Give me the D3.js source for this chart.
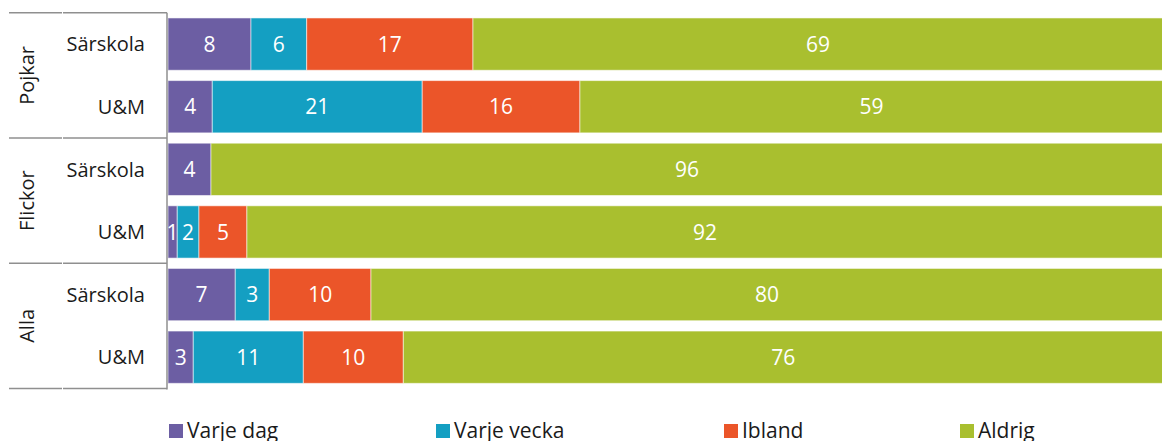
<!DOCTYPE html>
<html>
<head>
<meta charset="utf-8">
<script src="https://cdn.jsdelivr.net/npm/d3@7"></script>
<style>
  body { margin: 0; background: #fff; }
  text { font-family: "Open Sans", sans-serif; }
</style>
</head>
<body>
<div id="chart"></div>
<script>
// categories (top to bottom)
const groups = ["Pojkar", "Flickor", "Alla"];
const schools = ["Särskola", "U&M"];

// series values, percent, one per row (Pojkar Särskola, Pojkar U&M, Flickor ..., Alla ...)
const varjeDag = [8.34, 4.45, 4.32, 0.93, 6.76, 2.54];
const varjeVecka = [5.6, 21.1, 0, 2.18, 3.42, 11.06];
const ibland = [16.71, 15.85, 0, 4.82, 10.22, 10.05];
const aldrig = [69.35, 58.6, 95.68, 92.07, 79.6, 76.35];

const seriesNames = ["Varje dag", "Varje vecka", "Ibland", "Aldrig"];
const colors = ["#6c5ea3", "#149fc2", "#eb5529", "#a9bf2f"];

function drawChart() {
  const width = 1162,
    height = 441;

  const svg = d3
    .select("#chart")
    .append("svg")
    .attr("width", width)
    .attr("height", height);

  // build the rows table
  const rows = [];
  groups.forEach((g, gi) => {
    schools.forEach((s, si) => {
      const i = gi * schools.length + si;
      rows.push({
        key: g + "|" + s,
        group: g,
        school: s,
        "Varje dag": varjeDag[i],
        "Varje vecka": varjeVecka[i],
        Ibland: ibland[i],
        Aldrig: aldrig[i],
      });
    });
  });

  const x = d3.scaleLinear().domain([0, 100]).range([168, 1163]);
  const y = d3
    .scaleBand()
    .domain(rows.map((d) => d.key))
    .range([12.8, 388.5])
    .paddingInner(0.165)
    .paddingOuter(0.0825);

  const stacked = d3.stack().keys(seriesNames)(rows);

  const layers = svg
    .selectAll("g.layer")
    .data(stacked)
    .join("g")
    .attr("class", "layer")
    .attr("fill", (d, i) => colors[i]);

  layers
    .selectAll("rect")
    .data((d) => d.filter((p) => p[1] - p[0] > 0))
    .join("rect")
    .attr("x", (d) => x(d[0]))
    .attr("y", (d) => y(d.data.key))
    .attr("width", (d) => x(d[1]) - x(d[0]))
    .attr("height", y.bandwidth())
    .attr("stroke", "rgba(255,255,255,0.55)")
    .attr("stroke-width", 1);

  // value labels
  const fmt = d3.format(".0f");
  layers
    .selectAll("text")
    .data((d) => d.filter((p) => p[1] - p[0] > 0))
    .join("text")
    .attr("x", (d) => (x(d[0]) + x(d[1])) / 2)
    .attr("y", (d) => y(d.data.key) + y.bandwidth() / 2)
    .attr("dy", "0.36em")
    .attr("text-anchor", "middle")
    .attr("fill", "#fff")
    .style("font-size", "21px")
    .text((d) => fmt(d[1] - d[0]));

  // category axis (two levels)
  const axis = svg.append("g").attr("stroke", "#8f8f8f").attr("stroke-width", 1.5);
  axis
    .append("line")
    .attr("x1", 167)
    .attr("x2", 167)
    .attr("y1", y.range()[0])
    .attr("y2", y.range()[1] + 1);

  const step = y.step();
  const groupEdges = groups.map((g, i) => y.range()[0] + i * step * schools.length);
  groupEdges.push(y.range()[1]);
  groupEdges.forEach((e) => {
    axis.append("line").attr("x1", 9).attr("x2", 62).attr("y1", e).attr("y2", e);
    axis.append("line").attr("x1", 63).attr("x2", 167).attr("y1", e).attr("y2", e);
  });

  svg
    .selectAll("text.school")
    .data(rows)
    .join("text")
    .attr("class", "school")
    .attr("x", 145)
    .attr("y", (d) => y(d.key) + y.bandwidth() / 2)
    .attr("dy", "0.36em")
    .attr("text-anchor", "end")
    .attr("fill", "#1a1a1a")
    .style("font-size", "20px")
    .text((d) => d.school);

  svg
    .selectAll("text.group")
    .data(groups)
    .join("text")
    .attr("class", "group")
    .attr("transform", (d, i) => {
      const cy = (groupEdges[i] + groupEdges[i + 1]) / 2;
      return `translate(27,${cy}) rotate(-90)`;
    })
    .attr("dy", "0.36em")
    .attr("text-anchor", "middle")
    .attr("fill", "#1a1a1a")
    .style("font-size", "20px")
    .text((d) => d);

  // legend
  const legendX = [169, 436, 724, 960];
  const legend = svg
    .selectAll("g.legend")
    .data(seriesNames)
    .join("g")
    .attr("class", "legend")
    .attr("transform", (d, i) => `translate(${legendX[i]},424)`);

  legend
    .append("rect")
    .attr("width", 14)
    .attr("height", 14)
    .attr("fill", (d, i) => colors[i]);

  legend
    .append("text")
    .attr("x", 18)
    .attr("y", 14)
    .attr("fill", "#1a1a1a")
    .style("font-size", "21px")
    .text((d) => d);
}

drawChart();
</script>
</body>
</html>
